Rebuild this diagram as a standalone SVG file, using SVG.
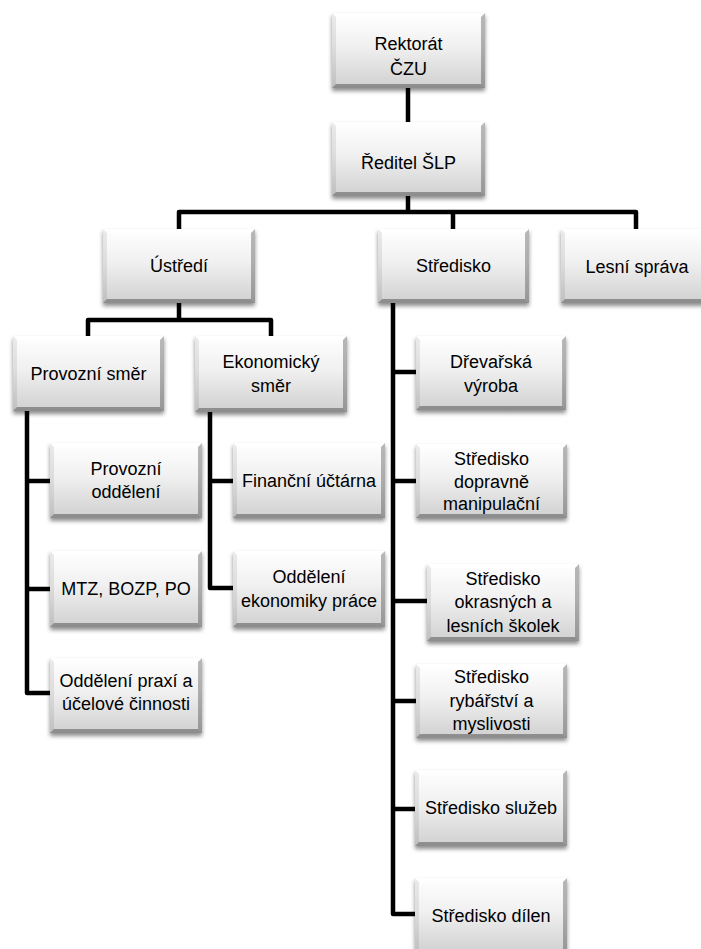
<svg xmlns="http://www.w3.org/2000/svg" xmlns:xlink="http://www.w3.org/1999/xlink" width="701" height="949" viewBox="0 0 701 949">
<defs>
<linearGradient id="g" x1="0" y1="0" x2="0" y2="1">
<stop offset="0" stop-color="#ffffff"/>
<stop offset="0.45" stop-color="#f0f0f0"/>
<stop offset="1" stop-color="#d0d0d0"/>
</linearGradient>
<filter id="sh" x="-10%" y="-10%" width="120%" height="130%">
<feDropShadow dx="0" dy="3" stdDeviation="2.2" flood-color="#000" flood-opacity="0.45"/>
</filter>
<symbol id="box" viewBox="0 0 152 75" preserveAspectRatio="none">
<rect x="0" y="0" width="152" height="75" fill="url(#g)"/>
<polygon points="0,0 152,0 148,4 4,4" fill="#ffffff" opacity="0.7"/>
<polygon points="0,0 4,4 4,71 0,75" fill="#000" opacity="0.08"/>
<polygon points="152,0 152,75 148,71 148,4" fill="#000" opacity="0.28"/>
<polygon points="0,75 152,75 148,71 4,71" fill="#000" opacity="0.32"/>
</symbol>
</defs>
<style>
.c{fill:none;stroke:#000;stroke-width:4.5;stroke-linejoin:round}
.b{filter:url(#sh)}
text{font-family:"Liberation Sans",Arial,sans-serif;font-size:18px;fill:#000;text-anchor:middle}
</style>
<rect width="701" height="949" fill="#fff"/>
<g id="connectors">
<path class="c" d="M408,88V122"/>
<path class="c" d="M408,196V212M179,229V212H636V229M453,212V229"/>
<path class="c" d="M179,303V320M88,336V320H271V336"/>
<path class="c" d="M27,411V693H50M27,481H50M27,589H50"/>
<path class="c" d="M210,412V588H233M210,481H233"/>
<path class="c" d="M393,303V914H415M393,372H416M393,481H416M393,601H427M393,701H416M393,809H415"/>
</g>
<g id="rektorat"><use class="b" href="#box" x="332" y="13" width="153" height="75"/><text x="408.5" y="50">Rektorát</text><text x="408.5" y="75">ČZU</text></g>
<g id="reditel"><use class="b" href="#box" x="332" y="122" width="153" height="74"/><text x="408.5" y="169">Ředitel ŠLP</text></g>
<g id="ustredi"><use class="b" href="#box" x="103" y="229" width="152" height="74"/><text x="179" y="272">Ústředí</text></g>
<g id="stredisko"><use class="b" href="#box" x="378" y="229" width="151" height="74"/><text x="453.5" y="272">Středisko</text></g>
<g id="lesni-sprava"><use class="b" href="#box" x="561" y="229" width="152" height="74"/><text x="637" y="273">Lesní správa</text></g>
<g id="provozni-smer"><use class="b" href="#box" x="13" y="336" width="151" height="75"/><text x="88.5" y="380">Provozní směr</text></g>
<g id="ekonomicky-smer"><use class="b" href="#box" x="195" y="336" width="152" height="76"/><text x="271" y="368">Ekonomický</text><text x="271" y="392">směr</text></g>
<g id="provozni-oddeleni"><use class="b" href="#box" x="50" y="443" width="152" height="75"/><text x="126" y="475">Provozní</text><text x="126" y="498">oddělení</text></g>
<g id="mtz"><use class="b" href="#box" x="50" y="551" width="152" height="76"/><text x="126" y="595">MTZ, BOZP, PO</text></g>
<g id="oddeleni-praxi"><use class="b" href="#box" x="50" y="658" width="152" height="75"/><text x="126" y="687">Oddělení praxí a</text><text x="126" y="710">účelové činnosti</text></g>
<g id="financni-uctarna"><use class="b" href="#box" x="233" y="443" width="152" height="75"/><text x="309" y="487">Finanční účtárna</text></g>
<g id="oddeleni-ekonomiky"><use class="b" href="#box" x="233" y="551" width="152" height="76"/><text x="309" y="583">Oddělení</text><text x="309" y="607">ekonomiky práce</text></g>
<g id="drevarska"><use class="b" href="#box" x="416" y="336" width="150" height="74"/><text x="491" y="368">Dřevařská</text><text x="491" y="392">výroba</text></g>
<g id="dopravne"><use class="b" href="#box" x="416" y="444" width="151" height="74"/><text x="491.5" y="465">Středisko</text><text x="491.5" y="488">dopravně</text><text x="491.5" y="510">manipulační</text></g>
<g id="okrasnych"><use class="b" href="#box" x="427" y="564" width="152" height="77"/><text x="503" y="585">Středisko</text><text x="503" y="608">okrasných a</text><text x="503" y="632">lesních školek</text></g>
<g id="rybarstvi"><use class="b" href="#box" x="416" y="664" width="151" height="74"/><text x="491.5" y="683">Středisko</text><text x="491.5" y="707">rybářství a</text><text x="491.5" y="730">myslivosti</text></g>
<g id="sluzeb"><use class="b" href="#box" x="415" y="770" width="152" height="76"/><text x="491" y="814">Středisko služeb</text></g>
<g id="dilen"><use class="b" href="#box" x="415" y="878" width="152" height="75"/><text x="491" y="922">Středisko dílen</text></g>
</svg>
